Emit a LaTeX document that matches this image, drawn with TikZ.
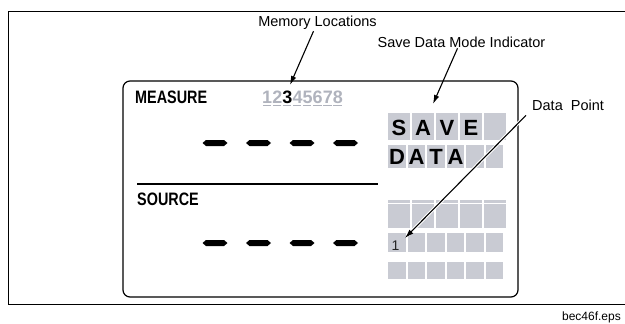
\documentclass[tikz,border=0pt]{standalone}
\usepackage{fontspec}
\setmainfont{Liberation Sans}
\usetikzlibrary{arrows.meta}

\definecolor{cellgray}{RGB}{201,203,211}
\definecolor{digitgray}{RGB}{176,179,189}

\tikzset{
  lbl/.style={font=\fontsize{14.5}{17}\selectfont, inner sep=0pt},
  ptr/.style={line width=1.1pt, -{Latex[length=9pt,width=5.5pt]}},
  cell/.style={fill=cellgray},
  lcdtag/.style={font=\fontsize{18}{20}\selectfont\bfseries, inner sep=0pt, anchor=base west},
  lcdchar/.style={font=\fontsize{22}{24}\selectfont\bfseries, inner sep=0pt, anchor=base},
}

% one dash of the seven segment readout
\newcommand{\lcddash}[2]{\fill (#1-12.5,#2) -- ++(3.5,-3) -- ++(18,0) -- ++(3.5,3) -- ++(-3.5,3) -- ++(-18,0) -- cycle;}

\begin{document}
\begin{tikzpicture}[x=1pt,y=-1pt]
\useasboundingbox (0,0) rectangle (625,324);

% Frame
\draw[line width=1pt] (625,11) -- (8,11) -- (8,304) -- (625,304);
\node[anchor=base east, font=\fontsize{12}{14}\selectfont, inner sep=0pt] (fname) at (621,320) {bec46f.eps};

% Display
\draw[line width=1.2pt, rounded corners=7pt] (123,81) rectangle (518,297);

% Measure
\node[lcdtag] (measure) at (135,103) {\scalebox{0.8}[1]{MEASURE}};

\foreach \d/\c in {1/digitgray,2/digitgray,3/black,4/digitgray,5/digitgray,6/digitgray,7/digitgray,8/digitgray}
{
    \node[lcdtag, text=\c] (mem\d) at (262+\d*10.1-10.1,103) {\d};
    \fill[digitgray] (262.5+\d*10.1-10.1,104.5) rectangle ++(8.5,1.6);
}

\foreach \x in {215,258.5,302,345.5}
{
    \lcddash{\x}{143}
}

\draw[line width=1.5pt] (137,184) -- (378,184);

% Source
\node[lcdtag] (source) at (137,205) {\scalebox{0.8}[1]{SOURCE}};

\foreach \x in {215,258.5,302,345.5}
{
    \lcddash{\x}{243}
}

% Save Data
\foreach \x in {388,412,436,460,484}
{
    \fill[cell] (\x,113) rectangle ++(22,27);
}
\foreach \x in {388,407.5,427,446.5,466,485.5}
{
    \fill[cell] (\x,145) rectangle ++(17.5,23);
}
\node[lcdchar] (s1) at (399,135) {S};
\node[lcdchar] (s2) at (423,135) {A};
\node[lcdchar] (s3) at (447,135) {V};
\node[lcdchar] (s4) at (471,135) {E};
\node[lcdchar] (d1) at (397,164.5) {D};
\node[lcdchar] (d2) at (416.5,164.5) {A};
\node[lcdchar] (d3) at (436,164.5) {T};
\node[lcdchar] (d4) at (455.5,164.5) {A};

% Data points
\foreach \x in {388,412,436,460,484}
{
    \fill[cell] (\x,200) rectangle ++(22,28);
}
\fill[white] (385,202.5) rectangle (510,204);
\foreach \x in {388,407.5,427,446.5,466,485.5}
{
    \fill[cell] (\x,233) rectangle ++(17.5,19);
    \fill[cell] (\x,262) rectangle ++(17.5,17);
}
\node[anchor=base west, font=\fontsize{14}{16}\selectfont, inner sep=0pt, text=black!85] (pt1) at (391.5,250) {1};

% Labels
\node[lbl, anchor=base] (memlbl) at (317.5,27) {Memory Locations};
\node[lbl, anchor=base] (savelbl) at (461.5,48) {Save Data Mode Indicator};
\node[lbl, anchor=base west] (dplbl) at (532,110) {Data\ \ Point};

\coordinate (memtip) at (290,85);
\coordinate (savetip) at (433,104);
\coordinate (dptip) at (405,238);

\draw[ptr] ([xshift=-4pt,yshift=-1pt]memlbl.south) -- (memtip);
\draw[ptr] ([xshift=-4pt]savelbl.south) -- (savetip);
\draw[white, line width=3.2pt, shorten >=4pt] ([xshift=-6pt,yshift=-5pt]dplbl.south west) -- (dptip);
\draw[ptr] ([xshift=-6pt,yshift=-5pt]dplbl.south west) -- (dptip);

\end{tikzpicture}
\end{document}
